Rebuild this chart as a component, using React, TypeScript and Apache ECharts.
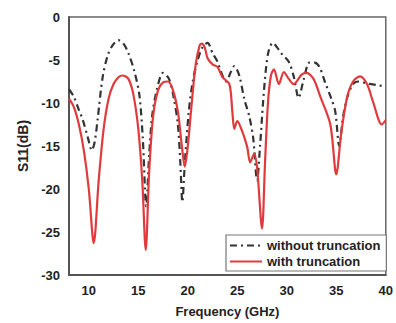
import React, { useEffect, useRef } from "react";
import * as echarts from "echarts";

const xTickLabels = [10, 15, 20, 25, 30, 35, 40];

const withoutFreq = [8.0, 8.5, 9.0, 9.4, 9.9, 10.3, 10.6, 10.9, 11.4, 11.9, 12.4, 13.0, 13.5, 14.0, 14.6, 15.1, 15.45, 15.8, 16.1, 16.4, 16.9, 17.5, 18.1, 18.6, 19.0, 19.25, 19.45, 19.7, 20.1, 20.5, 21.0, 21.5, 22.0, 22.5, 23.0, 23.5, 23.9, 24.3, 24.7, 25.2, 25.7, 26.2, 26.6, 27.0, 27.3, 27.6, 27.9, 28.2, 28.6, 29.0, 29.5, 30.2, 30.7, 31.2, 31.7, 32.3, 32.8, 33.3, 33.9, 34.5, 34.9, 35.3, 35.7, 36.2, 36.7, 37.2, 38.0, 39.0, 40.0];
const withoutS11 = [-8.4, -9.3, -10.8, -12, -14, -15.5, -14.5, -11.8, -7, -4.5, -3.3, -2.7, -3.1, -4.2, -6.3, -9, -14, -22, -16, -11.5, -8.3, -6.5, -7.2, -9.5, -12.5, -17, -21.5, -17, -11, -7.5, -5, -3.5, -3.0, -4.2, -5.2, -6.8, -7.5, -6.5, -5.7, -6.8, -9.5, -11.5, -14, -19, -15, -10, -6, -3.8, -3.0, -3.5, -4.3, -5.2, -6.9, -9.4, -7.3, -5.3, -5.3, -5.8, -7.7, -9.5, -11, -15, -11.5, -9, -7.8, -7.5, -7.7, -7.9, -8.1];

const withFreq = [8.0, 8.5, 9.0, 9.5, 10.0, 10.5, 11.0, 11.5, 12.0, 12.5, 13.0, 13.4, 14.0, 14.5, 15.0, 15.4, 15.75, 16.1, 16.5, 17.0, 17.5, 18.0, 18.5, 19.0, 19.4, 19.7, 20.0, 20.4, 20.8, 21.2, 21.4, 21.7, 22.0, 22.5, 23.0, 23.5, 24.2, 24.5, 24.7, 25.0, 25.5, 26.0, 26.3, 26.7, 27.0, 27.5, 27.8, 28.1, 28.4, 28.7, 29.2, 29.7, 30.2, 30.7, 31.5, 32.0, 32.7, 33.4, 34.4, 35.0, 35.5, 36.1, 36.7, 37.4, 38.1, 38.7, 39.6, 40.0];
const withS11 = [-9.5, -10.5, -12.5, -15.5, -20, -26.3, -19, -13, -9.5, -7.8, -7.0, -6.8, -7.2, -9, -13, -19, -27.1, -18, -11.5, -8.5, -7.6, -7.5, -8.5, -11, -15, -17.4, -15, -10, -5.5, -3.3, -3.1, -3.5, -4.8, -5.5, -5.8, -7, -7.8, -11, -13, -12.1, -13.3, -15.1, -16.9, -15.9, -17.5, -24.6, -17, -10, -6.8, -6.1, -7.8, -6.4, -7.2, -7.8, -6.7, -6.5, -7.2, -9.3, -12.5, -18.3, -13.5, -9.3, -7.5, -6.9, -7.8, -9.8, -12.5, -12.0];

const toPairs = (xs: number[], ys: number[]) => xs.map((x, i) => [x, ys[i]]);

export default function App() {
  const ref = useRef<HTMLDivElement>(null);
  useEffect(() => {
    if (!ref.current) return;
    const chart = echarts.init(ref.current, undefined, { renderer: "svg" });
    const font = "Liberation Sans, Arial, sans-serif";
    chart.setOption({
      animation: false,
      backgroundColor: "#ffffff",
      grid: {
        left: 69,
        top: 17,
        right: 5,
        bottom: 46,
        show: true,
        borderColor: "#666",
        borderWidth: 1.5,
      },
      xAxis: {
        type: "value",
        min: 8,
        max: 40,
        name: "Frequency (GHz)",
        nameLocation: "middle",
        nameGap: 30,
        nameTextStyle: { fontFamily: font, fontWeight: "bold", fontSize: 13, color: "#222" },
        axisLine: { show: true, onZero: false, lineStyle: { color: "#555", width: 2 } },
        axisTick: { show: false },
        splitLine: { show: false },
        axisLabel: {
          customValues: xTickLabels,
          fontFamily: font,
          fontWeight: "bold",
          fontSize: 13,
          color: "#222",
          margin: 9,
        },
      },
      yAxis: {
        type: "value",
        min: -30,
        max: 0,
        interval: 5,
        name: "S11(dB)",
        nameLocation: "middle",
        nameGap: 38,
        nameRotate: 90,
        nameTextStyle: { fontFamily: font, fontWeight: "bold", fontSize: 14, color: "#222" },
        axisLine: { show: true, onZero: false, lineStyle: { color: "#555", width: 2 } },
        axisTick: { show: false },
        splitLine: { show: false },
        axisLabel: { fontFamily: font, fontWeight: "bold", fontSize: 13, color: "#222", margin: 9 },
      },
      legend: {
        orient: "vertical",
        left: 226,
        top: 235,
        width: 157,
        itemWidth: 32,
        itemHeight: 10,
        itemGap: 3,
        padding: [4, 6, 3, 3],
        borderColor: "#777",
        borderWidth: 1.2,
        backgroundColor: "#fff",
        itemStyle: { opacity: 0 },
        textStyle: { fontFamily: font, fontWeight: "bold", fontSize: 13, color: "#222" },
        data: ["without truncation", "with truncation"],
      },
      series: [
        {
          name: "without truncation",
          type: "line",
          data: toPairs(withoutFreq, withoutS11),
          showSymbol: false,
          symbol: "none",
          smooth: 0.3,
          lineStyle: { color: "#333", width: 2.2, type: [7, 4, 2, 4] },
          itemStyle: { color: "#333" },
          z: 2,
        },
        {
          name: "with truncation",
          type: "line",
          data: toPairs(withFreq, withS11),
          showSymbol: false,
          symbol: "none",
          smooth: 0.3,
          lineStyle: { color: "#e03a3c", width: 2.2 },
          itemStyle: { color: "#e03a3c" },
          z: 3,
        },
      ],
    });
    return () => chart.dispose();
  }, []);
  return (
    <div
      ref={ref}
      style={{ position: "fixed", left: 0, top: 0, width: 396, height: 323 }}
    />
  );
}
